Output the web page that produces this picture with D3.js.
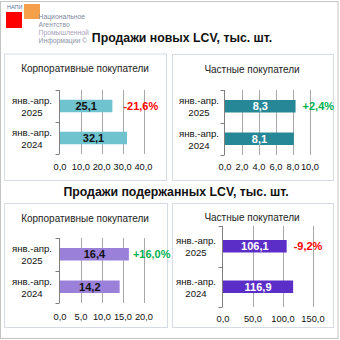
<!DOCTYPE html>
<html><head><meta charset="utf-8">
<script src="https://cdn.jsdelivr.net/npm/d3@7"></script>
<style>
html,body{margin:0;padding:0;background:#fff;}
svg{display:block;font-family:"Liberation Sans",Arial,sans-serif;}
</style></head>
<body><svg id="c" width="340" height="340"></svg>
<script>
// ---- data ----
const periods = ["янв.-апр. 2025", "янв.-апр. 2024"];
const newCorporate = [25.1, 32.1];
const newPrivate = [8.3, 8.1];
const usedCorporate = [16.4, 14.2];
const usedPrivate = [106.1, 116.9];
const changeLabels = ["-21,6%", "+2,4%", "+16,0%", "-9,2%"];
const ticksNewCorp = [0, 10, 20, 30, 40];
const ticksNewPriv = [0, 2, 4, 6, 8, 10];
const ticksUsedCorp = [0, 5, 10, 15, 20];
const ticksUsedPriv = [0, 50, 100, 150];
const titles = ["Продажи новых LCV, тыс. шт.", "Продажи подержанных LCV, тыс. шт."];
const subtitles = ["Корпоративные покупатели", "Частные покупатели"];

const svg = d3.select("#c");
const fmt = v => d3.format(".1f")(v).replace(".", ",");

// outer frame
svg.append("rect").attr("x",0.5).attr("y",1.5).attr("width",337.5).attr("height",337)
  .attr("fill","#fff").attr("stroke","#c4c4c4");

// logo
const logo = svg.append("g");
logo.append("text").attr("x",7).attr("y",9).attr("font-size",5.5).attr("fill","#5a6f99").text("НАПИ");
logo.append("rect").attr("x",6).attr("y",12).attr("width",16).attr("height",16).attr("fill","#ff0000");
logo.append("rect").attr("x",24).attr("y",4).attr("width",16).attr("height",15).attr("fill","#f4a04a");
const logoLines = ["Национальное","Агентство","Промышленной","Информации ©"];
const logoCols = ["#7c879c","#8a93a6","#a9a3bb","#8a93a6"];
logo.selectAll("text.l").data(logoLines).join("text").attr("class","l")
  .attr("x",38.5).attr("y",(d,i)=>18.5+i*8).attr("font-size",6.8)
  .attr("fill",(d,i)=>logoCols[i]).text(d=>d);

// titles
svg.append("text").attr("x",182).attr("y",42).attr("text-anchor","middle")
  .attr("font-size",12.3).attr("font-weight","bold").attr("fill","#111").text(titles[0]);
svg.append("text").attr("x",176).attr("y",196).attr("text-anchor","middle")
  .attr("font-size",12.3).attr("font-weight","bold").attr("fill","#111").text(titles[1]);

const panels = [
  {frame:[4,53.5,166,180], sub:subtitles[0], subX:85, subY:72, values:newCorporate, ticks:ticksNewCorp,
   xr:[60,143.5], yr:[90,154], labX:32, tickY:170, color:"#6fc3cf", txt:"#111", chg:changeLabels[0], chgCol:"#ff0000", chgDx:11},
  {frame:[172,54,333,180], sub:subtitles[1], subX:252, subY:73, values:newPrivate, ticks:ticksNewPriv,
   xr:[225,310], yr:[90,155], labX:199, tickY:170, color:"#268797", txt:"#fff", chg:changeLabels[1], chgCol:"#00b050", chgDx:7},
  {frame:[4,203,167,327], sub:subtitles[0], subX:85, subY:222, values:usedCorporate, ticks:ticksUsedCorp,
   xr:[60,144], yr:[238,303], labX:32, tickY:320, color:"#9b80da", txt:"#111", chg:changeLabels[2], chgCol:"#00b050", chgDx:4},
  {frame:[172,203,333,327], sub:subtitles[1], subX:252, subY:221, values:usedPrivate, ticks:ticksUsedPriv,
   xr:[223,313], yr:[226,307], labX:196, tickY:322, color:"#5b2ec8", txt:"#fff", chg:changeLabels[3], chgCol:"#ff0000", chgDx:7}
];

panels.forEach(p => {
  const g = svg.append("g");
  const [x0,y0,x1,y1] = p.frame;
  g.append("rect").attr("x",x0+0.5).attr("y",y0+0.5).attr("width",x1-x0).attr("height",y1-y0)
    .attr("fill","#fff").attr("stroke","#d6dbe3");
  g.append("text").attr("x",p.subX).attr("y",p.subY).attr("text-anchor","middle")
    .attr("font-size",10).attr("fill","#222").text(p.sub);

  const x = d3.scaleLinear().domain([p.ticks[0], p.ticks[p.ticks.length-1]]).range(p.xr);
  const y = d3.scaleBand().domain(periods).range(p.yr).padding(0);
  const bh = 12.5;

  // gridlines
  g.selectAll("line.grid").data(p.ticks.slice(1)).join("line").attr("class","grid")
    .attr("x1",d=>Math.round(x(d))+0.5).attr("x2",d=>Math.round(x(d))+0.5)
    .attr("y1",p.yr[0]).attr("y2",p.yr[1]).attr("stroke","#a8a8a8").attr("stroke-width",1);

  // tick labels
  g.selectAll("text.tk").data(p.ticks).join("text").attr("class","tk")
    .attr("x",d=>x(d)).attr("y",p.tickY).attr("text-anchor","middle")
    .attr("font-size",9.3).attr("fill","#111").text(d=>fmt(d));

  // bars
  g.selectAll("rect.bar").data(p.values).join("rect").attr("class","bar")
    .attr("x",x(0)).attr("y",(d,i)=>y(periods[i])+y.bandwidth()/2-bh/2)
    .attr("width",d=>x(d)-x(0)).attr("height",bh).attr("fill",p.color);

  // value labels
  g.selectAll("text.val").data(p.values).join("text").attr("class","val")
    .attr("x",d=>(x(0)+x(d))/2).attr("y",(d,i)=>y(periods[i])+y.bandwidth()/2+4)
    .attr("text-anchor","middle").attr("font-size",11).attr("font-weight","bold")
    .attr("fill",p.txt).text(d=>fmt(d));

  // axis line with ticks
  const ax = Math.round(x(0))-0.5;
  g.append("line").attr("x1",ax).attr("x2",ax).attr("y1",p.yr[0]).attr("y2",p.yr[1])
    .attr("stroke","#7f7f7f");
  const tickYs = [p.yr[0], (p.yr[0]+p.yr[1])/2, p.yr[1]];
  g.selectAll("line.at").data(tickYs).join("line").attr("class","at")
    .attr("x1",ax-4).attr("x2",ax).attr("y1",d=>Math.round(d)+0.5).attr("y2",d=>Math.round(d)+0.5)
    .attr("stroke","#7f7f7f");

  // category labels
  periods.forEach(c => {
    const cy = y(c)+y.bandwidth()/2;
    const parts = c.split(" ");
    const t = g.append("text").attr("text-anchor","middle").attr("font-size",9.6).attr("fill","#111");
    t.append("tspan").attr("x",p.labX).attr("y",cy-2).text(parts[0]);
    t.append("tspan").attr("x",p.labX).attr("y",cy+10).text(parts[1]);
  });

  // change label
  g.append("text").attr("x",x(p.values[0])+p.chgDx).attr("y",y(periods[0])+y.bandwidth()/2+4)
    .attr("font-size",11).attr("font-weight","bold").attr("fill",p.chgCol).text(p.chg);
});
</script></body></html>
